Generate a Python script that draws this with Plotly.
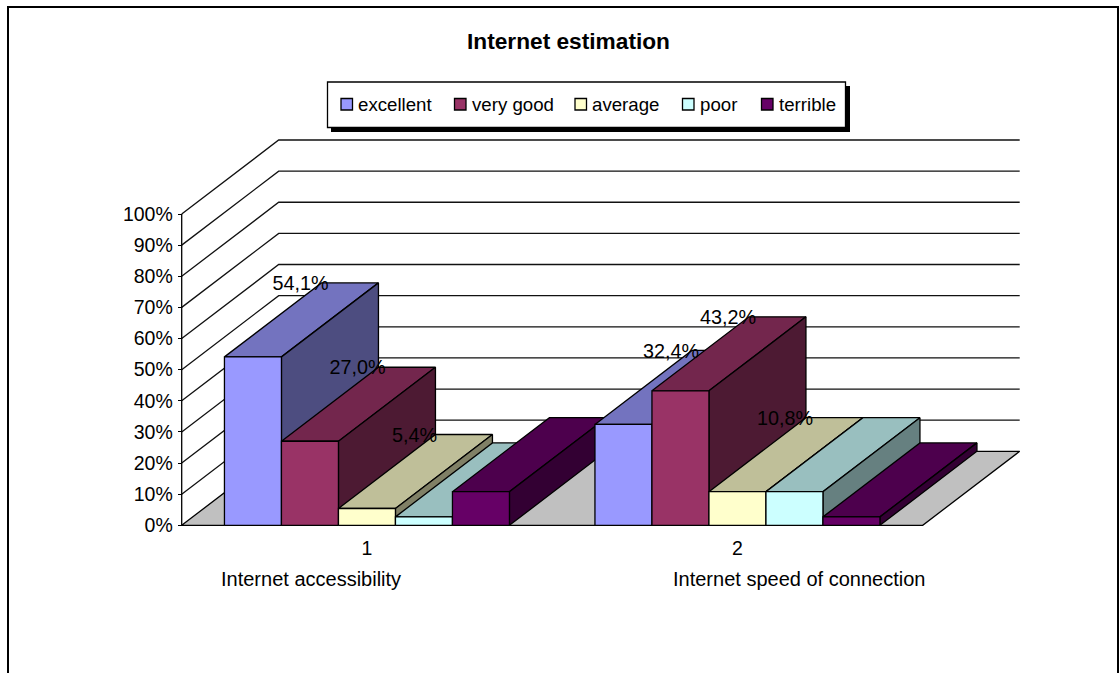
import plotly.graph_objects as go

# Survey results, percent of respondents
categories = ["1", "2"]
category_names = ["Internet accessibility", "Internet speed of connection"]
series_names = ["excellent", "very good", "average", "poor", "terrible"]
accessibility = [54.1, 27.0, 5.4, 2.7, 10.8]
speed = [32.4, 43.2, 10.8, 10.8, 2.7]
# Only these points carry a printed value label
accessibility_labelled = [True, True, True, False, False]
speed_labelled = [True, True, True, False, False]
y_ticks = [0, 10, 20, 30, 40, 50, 60, 70, 80, 90, 100]
y_tick_labels = ["0%", "10%", "20%", "30%", "40%", "50%", "60%", "70%", "80%", "90%", "100%"]

front_colors = ["#9999FF", "#993366", "#FFFFCC", "#CCFFFF", "#660066"]
top_colors = ["#7373BF", "#73264D", "#BFBF99", "#99BFBF", "#4D004D"]
side_colors = ["#4D4D80", "#4D1A33", "#808066", "#668080", "#330033"]

W, H = 1119, 673
FONT = "Liberation Sans"
LEGEND_SIZE = 18.67
AXIS_SIZE = 19.5
LABEL_SIZE = 19.8
CATEGORY_SIZE = 20.0
LINE = 1.3

# Pixel placement of the plot box
ORIGIN_PX, ZERO_PX = 181.7, 525.3
UNIT_X_PX, UNIT_Y_PX = 370.5, 3.113

# Oblique depth offset, in axis units
DEPTH_X = 97.0 / UNIT_X_PX
DEPTH_Y = 74.0 / UNIT_Y_PX

GAP = 0.75          # half gap on each side of a group, in bar widths
BAR_W = 1.0 / (len(series_names) + 2 * GAP)

fig = go.Figure()


def poly(xs, ys, fill=None, line="#000000", width=LINE):
    fig.add_trace(go.Scatter(
        x=xs, y=ys, mode="lines", showlegend=False, hoverinfo="skip",
        fill="toself" if fill else "none", fillcolor=fill,
        line=dict(color=line, width=width, simplify=False),
    ))


# Floor
n_cat = len(categories)
poly([0, n_cat, n_cat + DEPTH_X, DEPTH_X, 0], [0, 0, DEPTH_Y, DEPTH_Y, 0], fill="#C0C0C0")

# Gridlines on the left and back walls
for v in y_ticks[1:]:
    poly([0, DEPTH_X, n_cat + DEPTH_X], [v, v + DEPTH_Y, v + DEPTH_Y], line="#111111")
poly([0, 0], [0, 100])

# Bars, painted left to right so nearer ones cover the ones behind
label_x, label_y, label_text = [], [], []
groups = [(accessibility, accessibility_labelled), (speed, speed_labelled)]
for c, (values, labelled) in enumerate(groups):
    for s, v in enumerate(values):
        x0 = c + (GAP + s) * BAR_W
        x1 = x0 + BAR_W
        poly([x0, x1, x1 + DEPTH_X, x0 + DEPTH_X, x0],
             [v, v, v + DEPTH_Y, v + DEPTH_Y, v], fill=top_colors[s])
        poly([x1, x1 + DEPTH_X, x1 + DEPTH_X, x1, x1],
             [0, DEPTH_Y, v + DEPTH_Y, v, 0], fill=side_colors[s])
        poly([x0, x1, x1, x0, x0], [0, 0, v, v, 0], fill=front_colors[s])
        if labelled[s]:
            label_x.append(x0 + 0.785 * DEPTH_X)
            label_y.append(v + DEPTH_Y - 0.7)
            label_text.append(f"{v:.1f}%".replace(".", ","))

fig.add_trace(go.Scatter(
    x=label_x, y=label_y, text=label_text, mode="text", textposition="middle center",
    textfont=dict(family=FONT, size=LABEL_SIZE, color="#000000"),
    showlegend=False, hoverinfo="skip", cliponaxis=False,
))


def px(x):
    return x / W


def py(y):
    return 1 - y / H


def rect(x0, y0, x1, y1, fill, width=1.0):
    return dict(type="rect", xref="paper", yref="paper",
                x0=px(x0), y0=py(y0), x1=px(x1), y1=py(y1),
                fillcolor=fill, line=dict(color="#000000", width=width))


# Chart frame is open at the bottom, where the page cuts it off
shapes = [dict(type="path", xref="paper", yref="paper",
               path=f"M {px(8)} 0 L {px(8)} {py(7)} L {px(1118)} {py(7)} L {px(1118)} 0",
               line=dict(color="#000000", width=2))]

# Legend box with its drop shadow
shapes.append(rect(331, 86, 850, 132, "#000000", 0))
shapes.append(rect(327.5, 82, 845.5, 127.5, "#FFFFFF", 1.3))

swatch_px = [341, 454.5, 575, 682.5, 761.5]
legend_text_px = [356, 470, 590, 698, 776.5]
annotations = []
for name, color, sx, tx in zip(series_names, front_colors, swatch_px, legend_text_px):
    shapes.append(rect(sx, 98.5, sx + 11.5, 110, color, 1.3))
    annotations.append(dict(xref="paper", yref="paper", x=px(tx), y=py(104), text=name,
                            showarrow=False, xanchor="left", yanchor="middle",
                            font=dict(family=FONT, size=LEGEND_SIZE, color="#000000")))

# Series names set below the numbered ticks
for name, cx in zip(category_names, [311, 799]):
    annotations.append(dict(xref="paper", yref="paper", x=px(cx), y=py(578.5), text=name,
                            showarrow=False, xanchor="center", yanchor="middle",
                            font=dict(family=FONT, size=CATEGORY_SIZE, color="#000000")))

annotations.append(dict(xref="paper", yref="paper", x=px(568), y=py(40.5),
                        text="<b>Internet estimation</b>", showarrow=False,
                        xanchor="center", yanchor="middle",
                        font=dict(family=FONT, size=22.7, color="#000000")))

fig.update_layout(
    width=W, height=H, margin=dict(l=0, r=0, t=0, b=0),
    paper_bgcolor="#FFFFFF", plot_bgcolor="#FFFFFF",
    shapes=shapes, annotations=annotations, showlegend=False,
    xaxis=dict(
        range=[-ORIGIN_PX / UNIT_X_PX, (W - ORIGIN_PX) / UNIT_X_PX],
        anchor="free", position=(H - ZERO_PX) / H,
        tickmode="array", tickvals=[i + 0.5 for i in range(n_cat)], ticktext=categories,
        showgrid=False, zeroline=False, showline=False,
        ticks="outside", ticklen=5, tickcolor="rgba(0,0,0,0)",
        tickfont=dict(family=FONT, size=AXIS_SIZE, color="#000000"),
    ),
    yaxis=dict(
        range=[(ZERO_PX - H) / UNIT_Y_PX, ZERO_PX / UNIT_Y_PX],
        anchor="free", position=ORIGIN_PX / W, side="left",
        tickmode="array", tickvals=y_ticks, ticktext=y_tick_labels,
        showgrid=False, zeroline=False, showline=False,
        ticks="outside", ticklen=4, tickcolor="#000000", tickwidth=1.3,
        ticklabelstandoff=1,
        tickfont=dict(family=FONT, size=AXIS_SIZE, color="#000000"),
    ),
)

fig.write_html("out.html")
